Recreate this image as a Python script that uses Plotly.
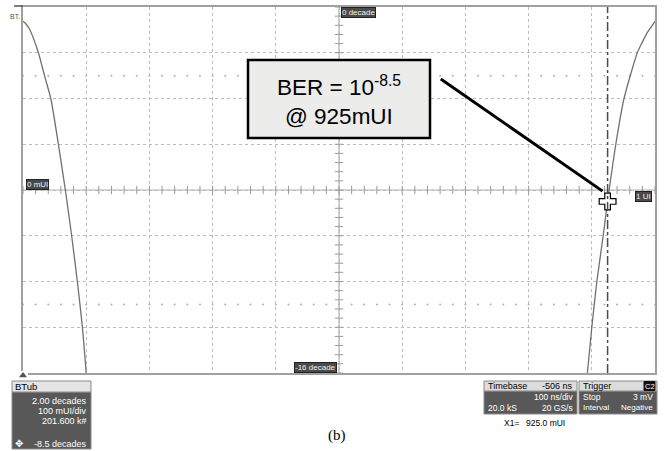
import numpy as np
import plotly.graph_objects as go

# ---- data: bathtub curve (log10 BER, decades) vs. unit-interval position (mUI)
left_mui = [0, 3, 10, 24, 35, 44, 56, 67, 77, 86, 94, 100]
left_dec = [-0.62, -0.69, -0.95, -1.97, -3.1, -4.0, -6.0, -8.0, -10.0, -12.0, -14.0, -16.0]

right_mui = [1000, 999, 987, 979, 972, 951, 938, 925, 918, 908, 900, 893]
right_dec = [-0.62, -0.67, -1.15, -1.59, -2.0, -4.0, -6.0, -8.5, -10.0, -12.0, -14.0, -16.0]

cursor_mui = 925
cursor_dec = -8.5

x_range = [0, 1000]      # 0 mUI .. 1 UI, 100 mUI/div
y_range = [-16, 0]       # -16 decade .. 0 decade, 2 decades/div
mask_rows = [-3, -13]    # sparse dotted reference rows

W, H = 667, 451
PL, PR, PT, PB = 23, 655, 7, 373   # plot frame in pixels


def fx(p):
    return p / W


def fy(p):
    return 1 - p / H


fig = go.Figure()

# centre-axis tick marks
hx = np.arange(0, 1001, 20)
fig.add_trace(go.Scatter(x=hx, y=np.full(len(hx), -8.0), mode="markers",
                         marker=dict(symbol="line-ns", size=6, line=dict(width=1, color="#9a9a9a")),
                         hoverinfo="skip", showlegend=False))
vy = np.arange(-16, 0.01, 0.4)
fig.add_trace(go.Scatter(x=np.full(len(vy), 500.0), y=vy, mode="markers",
                         marker=dict(symbol="line-ew", size=6, line=dict(width=1, color="#9a9a9a")),
                         hoverinfo="skip", showlegend=False))

# sparse dotted rows
for r in mask_rows:
    fig.add_trace(go.Scatter(x=hx, y=np.full(len(hx), float(r)), mode="markers",
                             marker=dict(symbol="circle", size=2, color="#b0b0b0"),
                             hoverinfo="skip", showlegend=False))

# bathtub curve branches
fig.add_trace(go.Scatter(x=left_mui, y=left_dec, mode="lines",
                         line=dict(color="#707070", width=1.3, shape="spline", smoothing=0.6),
                         hoverinfo="skip", showlegend=False))
fig.add_trace(go.Scatter(x=right_mui, y=right_dec, mode="lines",
                         line=dict(color="#707070", width=1.3, shape="spline", smoothing=0.6),
                         hoverinfo="skip", showlegend=False))

shapes = []
# solid centre axes
shapes.append(dict(type="line", xref="x", yref="y", x0=0, x1=1000, y0=-8, y1=-8,
                   line=dict(color="#b0b0b0", width=1.2), layer="below"))
shapes.append(dict(type="line", xref="x", yref="y", x0=500, x1=500, y0=-16, y1=0,
                   line=dict(color="#b0b0b0", width=1.2), layer="below"))
# cursor line
shapes.append(dict(type="line", xref="x", yref="y", x0=cursor_mui, x1=cursor_mui, y0=-16, y1=0,
                   line=dict(color="#4a4a4a", width=1.5, dash="dashdot")))

# callout box and leader line
shapes.append(dict(type="rect", xref="paper", yref="paper", x0=fx(248), x1=fx(430), y0=fy(138), y1=fy(60),
                   fillcolor="#ececea", line=dict(color="black", width=2.5)))
shapes.append(dict(type="line", xref="x", yref="y", x0=661, y0=-3.15, x1=917, y1=-8.05,
                   line=dict(color="black", width=3)))

# top-left marker
shapes.append(dict(type="line", xref="paper", yref="paper", x0=fx(14), x1=fx(23), y0=fy(6), y1=fy(6),
                   line=dict(color="#555", width=1.5)))

# bottom-left info box (BTub)
shapes.append(dict(type="rect", xref="paper", yref="paper", x0=fx(12), x1=fx(91), y0=fy(449), y1=fy(392),
                   fillcolor="#585858", line=dict(color="#8a8a8a", width=1)))
shapes.append(dict(type="rect", xref="paper", yref="paper", x0=fx(12), x1=fx(91), y0=fy(392), y1=fy(381),
                   fillcolor="#e4e4e4", line=dict(color="#8a8a8a", width=1)))
# timebase box
shapes.append(dict(type="rect", xref="paper", yref="paper", x0=fx(484), x1=fx(577), y0=fy(414), y1=fy(391),
                   fillcolor="#585858", line=dict(color="#8a8a8a", width=1)))
shapes.append(dict(type="rect", xref="paper", yref="paper", x0=fx(484), x1=fx(577), y0=fy(391), y1=fy(381),
                   fillcolor="#dcdcdc", line=dict(color="#8a8a8a", width=1)))
# trigger box
shapes.append(dict(type="rect", xref="paper", yref="paper", x0=fx(579), x1=fx(657), y0=fy(414), y1=fy(391),
                   fillcolor="#585858", line=dict(color="#8a8a8a", width=1)))
shapes.append(dict(type="rect", xref="paper", yref="paper", x0=fx(579), x1=fx(657), y0=fy(391), y1=fy(381),
                   fillcolor="#dcdcdc", line=dict(color="#8a8a8a", width=1)))
shapes.append(dict(type="rect", xref="paper", yref="paper", x0=fx(644), x1=fx(655), y0=fy(390.5), y1=fy(381.5),
                   fillcolor="#111", line=dict(color="#111", width=1)))

# cursor marker
fig.add_trace(go.Scatter(x=[cursor_mui], y=[cursor_dec], mode="markers",
                         marker=dict(symbol="cross", size=14, color="white", line=dict(color="black", width=1.2)),
                         hoverinfo="skip", showlegend=False))

# trigger level marker under the frame
fig.add_trace(go.Scatter(x=[0], y=[0], xaxis="x2", yaxis="y2", mode="markers",
                         marker=dict(symbol="triangle-up", size=7, color="#555"),
                         hoverinfo="skip", showlegend=False))

ann = []
FONT = "Liberation Sans, Arial, sans-serif"


def txt(text, x, y, xa="left", size=9, color="white", bg=None, border=None, family=FONT):
    d = dict(text=text, xref="paper", yref="paper", x=fx(x), y=fy(y), xanchor=xa, yanchor="middle",
             showarrow=False, font=dict(family=family, size=size, color=color))
    if bg:
        d.update(bgcolor=bg, bordercolor=border or bg, borderwidth=1, borderpad=0)
    ann.append(d)


# axis end labels
txt("0 decade", 358, 13, "center", size=8, color="#f0f0f0", bg="#4a4a4a", border="#222")
txt("-16 decade", 315, 367, "center", size=8, color="#f0f0f0", bg="#4a4a4a", border="#222")
txt("0 mUI", 37, 184.5, "center", size=8, color="#f0f0f0", bg="#4a4a4a", border="#222")
txt("1 UI", 643, 196.5, "center", size=8, color="#f0f0f0", bg="#4a4a4a", border="#222")
txt("BT.", 8, 16, "left", size=7, color="#555")

# callout text
txt("BER = 10<sup>-8.5</sup>", 339, 86, "center", size=22.5, color="black")
txt("@ 925mUI", 339, 116, "center", size=22.5, color="black")

# BTub box
txt("BTub", 13, 386.5, "left", size=9.5, color="black")
txt("2.00 decades", 89, 401, "right")
txt("100 mUI/div", 89, 411, "right")
txt("201.600 k#", 89, 421, "right")
txt("-8.5 decades", 89, 444, "right")
txt("✥", 19, 443.5, "center", size=10)

# timebase box
txt("Timebase", 486, 386, "left", color="black")
txt("-506 ns", 575, 386, "right", color="black")
txt("100 ns/div", 575, 397, "right", size=8.5)
txt("20.0 kS", 486, 407.5, "left", size=8.5)
txt("20 GS/s", 575, 407.5, "right", size=8.5)
# trigger box
txt("Trigger", 581, 386, "left", color="black")
txt("C2", 649.5, 386, "center", size=7.5, color="white")
txt("Stop", 581, 397, "left", size=8.5)
txt("3 mV", 655, 397, "right", size=8.5)
txt("Interval", 581, 407.5, "left", size=8)
txt("Negative", 655, 407.5, "right", size=8)
txt("X1=", 502, 423, "left", size=8.5, color="black")
txt("925.0 mUI", 524, 423, "left", size=8.5, color="black")

# panel label
txt("(b)", 337, 435, "center", size=15, color="black", family="Liberation Serif, Times New Roman, serif")

grid = dict(showgrid=True, gridcolor="#bcbcbc", griddash="dot", gridwidth=1,
            zeroline=False, showticklabels=False, ticks="",
            showline=True, mirror=True, linecolor="#a0a0a0", linewidth=1.5)

fig.update_layout(
    width=W, height=H, autosize=False,
    margin=dict(l=0, r=0, t=0, b=0),
    paper_bgcolor="white", plot_bgcolor="white",
    xaxis=dict(range=x_range, dtick=100, domain=[fx(PL), fx(PR)], **grid),
    yaxis=dict(range=y_range, dtick=2, domain=[fy(PB), fy(PT)], **grid),
    xaxis2=dict(range=[-1, 1], domain=[fx(PL - 5), fx(PL + 5)], visible=False, anchor="y2"),
    yaxis2=dict(range=[-1, 1], domain=[fy(380), fy(371)], visible=False, anchor="x2"),
    shapes=shapes,
    annotations=ann,
    showlegend=False,
)

fig.write_html("out.html")
